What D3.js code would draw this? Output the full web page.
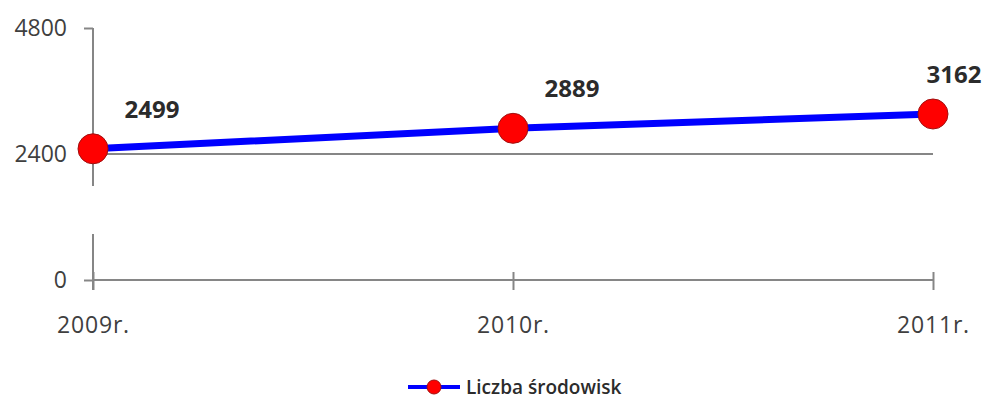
<!DOCTYPE html>
<html><head><meta charset="utf-8">
<script src="https://cdn.jsdelivr.net/npm/d3@7"></script>
<style>body{margin:0;background:#fff}svg{display:block}</style>
</head><body>
<svg id="c" width="987" height="401"></svg>
<script>
const categories = ["2009r.", "2010r.", "2011r."];
const values = [2499, 2889, 3162];
const yTicks = [0, 2400, 4800];
const seriesName = "Liczba środowisk";

const W = 987, H = 401;
const svg = d3.select("#c");
const font = "'Open Sans', sans-serif";
const x = d3.scalePoint().domain(categories).range([93, 933]);
const y = d3.scaleLinear().domain([0, 4800]).range([280, 28]);
const axisCol = "#868686";

// gridline at 2400
svg.append("g").selectAll("line").data(yTicks.filter(t => t > 0 && t < 4800)).join("line")
  .attr("x1", 93).attr("x2", 933).attr("y1", d => y(d)).attr("y2", d => y(d))
  .attr("stroke", axisCol).attr("stroke-width", 2);

// y axis
const ya = svg.append("g").attr("transform", "translate(93,0)")
  .call(d3.axisLeft(y).tickValues(yTicks).tickSize(9).tickPadding(17).tickFormat(d3.format("d")));
ya.select(".domain").attr("stroke", axisCol).attr("stroke-width", 2).attr("d", "M0,28V290");
ya.selectAll(".tick line").attr("stroke", axisCol).attr("stroke-width", 2);
ya.selectAll(".tick text").attr("font-family", font).attr("font-size", 23).attr("fill", "#3f3f3f");
// axis break
svg.append("rect").attr("x", 86).attr("y", 186).attr("width", 14).attr("height", 48).attr("fill", "#fff");

// x axis
const xa = svg.append("g").attr("transform", "translate(0,280)")
  .call(d3.axisBottom(x).tickSize(10).tickPadding(27));
xa.select(".domain").attr("stroke", axisCol).attr("stroke-width", 2).attr("d", "M93,0H933");
xa.selectAll(".tick line").attr("stroke", axisCol).attr("stroke-width", 2).attr("y1", -8);
xa.selectAll(".tick text").attr("font-family", font).attr("font-size", 23).attr("fill", "#3f3f3f")
  .attr("letter-spacing", 0.8);

// line
const data = categories.map((c, i) => ({c, v: values[i]}));
svg.append("path").datum(data)
  .attr("d", d3.line().x(d => x(d.c)).y(d => y(d.v)))
  .attr("fill", "none").attr("stroke", "#0000ff").attr("stroke-width", 7);
svg.append("g").selectAll("circle").data(data).join("circle")
  .attr("cx", d => x(d.c)).attr("cy", d => y(d.v)).attr("r", 15)
  .attr("fill", "#ff0000").attr("stroke", "#a01010").attr("stroke-width", 1);

// data labels
svg.append("g").selectAll("text").data(data).join("text")
  .attr("x", d => Math.min(x(d.c) + 59, W - 33))
  .attr("y", d => y(d.v) - 31)
  .attr("text-anchor", "middle")
  .attr("font-family", font).attr("font-weight", "bold").attr("font-size", 24)
  .attr("fill", "#2b2b2b").text(d => d3.format("d")(d.v));

// legend
const lg = svg.append("g").attr("transform", "translate(408,387)");
lg.append("line").attr("x1", 0).attr("x2", 52).attr("stroke", "#0000ff").attr("stroke-width", 4);
lg.append("circle").attr("cx", 26).attr("r", 7).attr("fill", "#ff0000").attr("stroke", "#a01010");
lg.append("text").attr("x", 58).attr("dy", "0.35em").attr("font-family", font).attr("font-weight", "600")
  .attr("font-size", 19).attr("fill", "#2b2b2b").text(seriesName);
</script>
</body></html>
